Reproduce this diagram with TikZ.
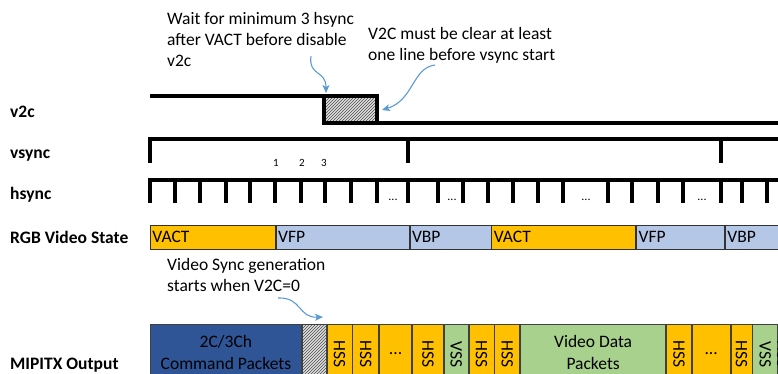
\documentclass[tikz,border=0pt]{standalone}
\usepackage{fontspec}
\setmainfont{Carlito}
\usetikzlibrary{arrows.meta,positioning,patterns}
\definecolor{vactorange}{RGB}{255,192,0}
\definecolor{porchblue}{RGB}{180,199,231}
\definecolor{pktgreen}{RGB}{169,209,142}
\definecolor{cmdblue}{RGB}{47,85,151}
\definecolor{noteblue}{RGB}{91,155,213}

\begin{document}
\begin{tikzpicture}[x=1pt, y=-1pt,
    rowlab/.style={anchor=base west, inner sep=0pt, font=\fontsize{17.5}{21}\selectfont\bfseries},
    note/.style={anchor=north west, inner sep=0pt, align=left, font=\fontsize{17.5}{21}\selectfont},
    wave/.style={draw=black, line width=3.4pt},
    seg/.style={draw=black!80, line width=0.8pt, anchor=west, inner sep=2pt,
        minimum height=24pt, align=left, font=\fontsize{17.5}{21}\selectfont},
    pkt/.style={draw=black!75, line width=0.8pt, anchor=north west, inner sep=0pt,
        minimum height=56pt, align=center, font=\fontsize{17.5}{22}\selectfont},
    hatched/.style={preaction={fill=gray!25}, pattern=north east lines, pattern color=black!70},
    arr/.style={-{Stealth[length=8pt, width=7pt, inset=2pt]}, line width=1.1pt, noteblue}
]
    \useasboundingbox (0,0) rectangle (778,373);

    % Row labels
    \node[rowlab] (lv2c) at (10,117) {v2c};
    \node[rowlab] (lvsync) at (10,158) {vsync};
    \node[rowlab] (lhsync) at (10,199) {hsync};
    \node[rowlab] (lrgb) at (10,243) {RGB Video State};
    \node[rowlab] (lmipi) at (10,369) {MIPITX Output};

    % v2c
    \node[wave, line width=3.4pt, hatched, anchor=north west, inner sep=0pt, outer sep=0pt,
        minimum width=53pt, minimum height=27pt] (hold) at (324,96) {};
    \draw[wave, line width=3.4pt] (150,96) -- (hold.north west);
    \draw[wave, line width=3.4pt] (hold.south east) -- (790,123);

    % vsync
    \draw[wave, line width=3.4pt] (150,163) -- (150,139) -- (790,139);
    \foreach \x in {408,721}
        \draw[wave, line width=3.4pt] (\x,139) -- (\x,163);

    % hsync
    \draw[wave, line width=3.4pt] (150,203) -- (150,180) -- (790,180);
    \foreach \x in {175,200,226,250,275,301,325,351,377,408,438,463,488,513,538,563,608,632,658,683,721,742,767}
        \draw[wave, line width=3.4pt] (\x,180) -- (\x,203);
    \foreach \x [count=\i] in {393,452,586,702}
        \node[font=\fontsize{12}{12}\selectfont] (hdots\i) at (\x,200) {...};
    \foreach \x/\n in {276/1,302/2,324/3}
        \node[font=\fontsize{11}{11}\selectfont] (hnum\n) at (\x,163) {\n};

    % RGB video state
    \node[seg, fill=vactorange, text width=121pt] (s1) at (150,237) {VACT};
    \node[seg, fill=porchblue, text width=129pt] (s2) at (s1.east) {VFP};
    \node[seg, fill=porchblue, text width=77pt] (s3) at (s2.east) {VBP};
    \node[seg, fill=vactorange, text width=140pt] (s4) at (s3.east) {VACT};
    \node[seg, fill=porchblue, text width=84pt] (s5) at (s4.east) {VFP};
    \node[seg, fill=porchblue, text width=80pt] (s6) at (s5.east) {VBP};

    % MIPITX output
    \node[pkt, fill=cmdblue, minimum width=151pt] (cmd) at (150,324) {2C/3Ch\\Command Packets};
    \node[pkt, hatched, minimum width=24pt] (gap) at (cmd.north east) {};
    \node[pkt, fill=vactorange, minimum width=25pt] (p1) at (gap.north east) {};
    \node[pkt, fill=vactorange, minimum width=26pt] (p2) at (p1.north east) {};
    \node[pkt, fill=vactorange, minimum width=32pt] (p3) at (p2.north east) {\raisebox{-5pt}{...}};
    \node[pkt, fill=vactorange, minimum width=31pt] (p4) at (p3.north east) {};
    \node[pkt, fill=pktgreen, minimum width=24pt] (p5) at (p4.north east) {};
    \node[pkt, fill=vactorange, minimum width=25pt] (p6) at (p5.north east) {};
    \node[pkt, fill=vactorange, minimum width=25pt] (p7) at (p6.north east) {};
    \node[pkt, fill=pktgreen, minimum width=145pt] (vdp) at (p7.north east) {Video Data\\Packets};
    \node[pkt, fill=vactorange, minimum width=25pt] (p8) at (vdp.north east) {};
    \node[pkt, fill=vactorange, minimum width=38pt] (p9) at (p8.north east) {\raisebox{-5pt}{...}};
    \node[pkt, fill=vactorange, minimum width=21pt] (p10) at (p9.north east) {};
    \node[pkt, fill=pktgreen, minimum width=25pt] (p11) at (p10.north east) {};
    \node[pkt, fill=vactorange, minimum width=22pt] (p12) at (p11.north east) {};
    \foreach \b/\t in {p1/HSS,p2/HSS,p4/HSS,p5/VSS,p6/HSS,p7/HSS,p8/HSS,p10/HSS,p11/VSS}
        \node[rotate=-90, inner sep=0pt, font=\fontsize{17.5}{17.5}\selectfont] at ([yshift=-2pt]\b.center) {\t};
    \node[rotate=-90, inner sep=0pt, font=\fontsize{17.5}{17.5}\selectfont] at ([xshift=4.5pt, yshift=-2pt]p12.west) {HSS};

    % Annotations
    \node[note] (nwait) at (167,12) {Wait for minimum 3 hsync\\after VACT before disable\\v2c};
    \node[note] (nclear) at (368,27) {V2C must be clear at least\\one line before vsync start};
    \node[note] (nstart) at (167,258) {Video Sync generation\\starts when V2C=0};

    \coordinate (wfrom) at (311,56);
    \coordinate (wto) at (326,93);
    \coordinate (cfrom) at (435,65);
    \coordinate (cto) at (382,110);
    \coordinate (sfrom) at (278,298);
    \coordinate (sto) at (323,317);
    \draw[arr] (wfrom) .. controls (308,76) and (326,70) .. (wto);
    \draw[arr] (cfrom) .. controls (412,68) and (414,100) .. (cto);
    \draw[arr] (sfrom) .. controls (302,297) and (298,318) .. (sto);
\end{tikzpicture}
\end{document}
